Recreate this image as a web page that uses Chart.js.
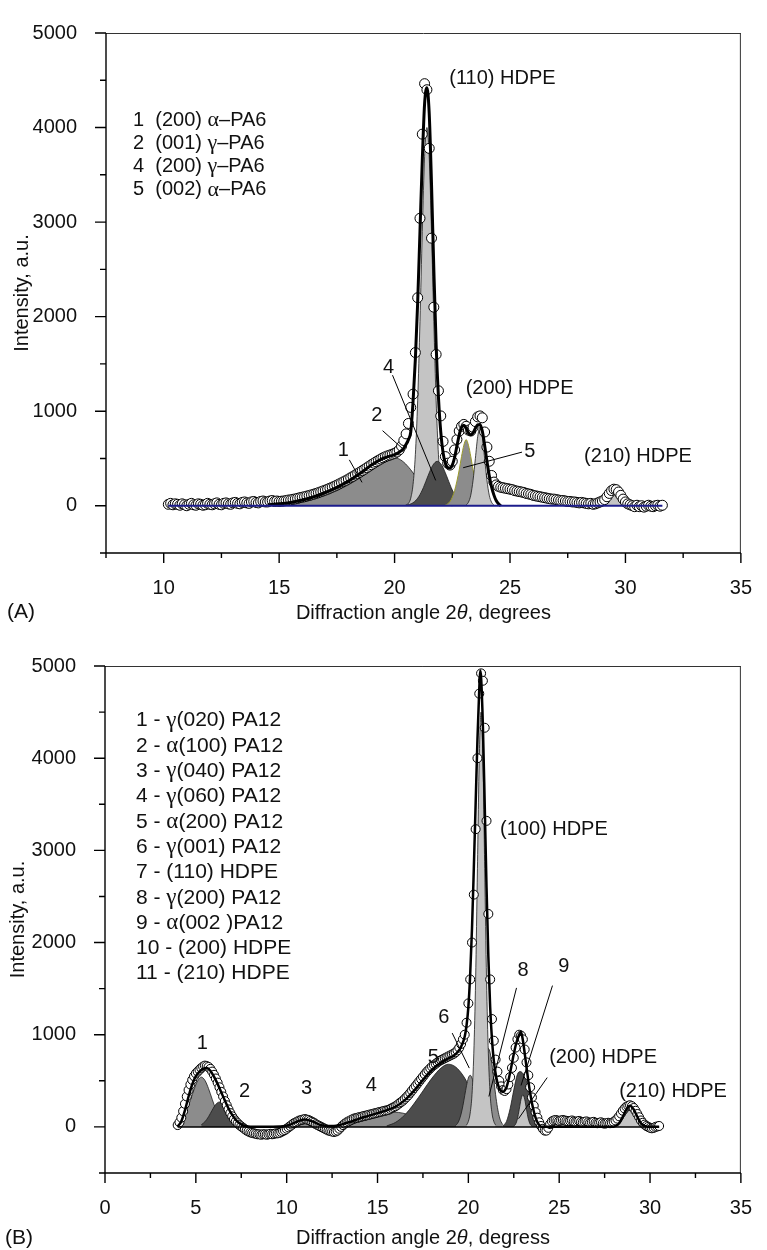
<!DOCTYPE html>
<html>
<head>
<meta charset="utf-8">
<script src="https://cdn.jsdelivr.net/npm/chart.js@4.4.1/dist/chart.umd.min.js"></script>
<style>
  body { margin: 0; background: #fff; width: 767px; height: 1250px; position: relative; overflow: hidden; }
  canvas { position: absolute; left: 0; }
  #chartA { top: 0; }
  #chartB { top: 630px; }
</style>
</head>
<body>
<canvas id="chartA" width="767" height="630"></canvas>
<canvas id="chartB" width="767" height="620"></canvas>
<script>
// ---------- panel A : PA6 / HDPE ----------
const xTicksA = [10, 15, 20, 25, 30, 35];
const yTicks = [0, 1000, 2000, 3000, 4000, 5000];

// measured points, 2theta from 10.2 in steps of 0.1
const scanA_start = 10.2, scanA_step = 0.1;
const scanA = [
  15, 25, 10, 20, 15, 5, 20, 10, 0, 15,
  25, 10, 5, 20, 15, 5, 10, 25, 15, 10,
  20, 30, 15, 10, 25, 30, 20, 15, 30, 35,
  25, 20, 35, 40, 30, 25, 40, 45, 35, 30,
  45, 50, 40, 40, 50, 55, 45, 50, 45, 48,
  50, 55, 60, 62, 68, 72, 78, 85, 90, 95,
  102, 108, 115, 122, 130, 138, 147, 156, 165, 175,
  185, 196, 207, 218, 230, 242, 255, 268, 282, 296,
  310, 325, 340, 355, 370, 386, 402, 418, 434, 450,
  465, 480, 494, 507, 518, 528, 536, 545, 555, 568,
  590, 630, 690, 760, 870, 1040, 1180, 1620, 2200, 3040,
  3930, 4464, 4400, 3780, 2830, 2100, 1600, 1216, 950, 680,
  520, 450, 430, 470, 590, 700, 790, 840, 860, 840,
  800, 790, 830, 890, 940, 950, 930, 780, 620, 470,
  320, 250, 220, 205, 195, 190, 185, 180, 175, 170,
  160, 155, 150, 145, 140, 130, 125, 120, 110, 105,
  100, 95, 90, 85, 80, 75, 70, 70, 65, 60,
  55, 55, 50, 45, 45, 40, 40, 35, 30, 35,
  30, 25, 20, 25, 15, 20, 30, 40, 50, 65,
  95, 130, 160, 175, 170, 145, 110, 70, 40, 20,
  10, 0, -10, 5, -10, 0, -15, -5, 5, -5,
  -10, 0, 5, -5, 5
];
const fitA = [[14.5,10],[15.0,20],[15.5,35],[16.0,60],[16.5,95],[17.0,140],[17.5,195],[18.0,260],[18.5,340],[19.0,430],[19.5,500],[19.8,525],[20.0,540],[20.2,565],[20.4,610],[20.5,650],[20.6,700],[20.7,780],[20.8,1100],[20.9,1550],[21.0,2150],[21.1,2900],[21.2,3650],[21.3,4250],[21.4,4420],[21.5,4150],[21.6,3400],[21.7,2500],[21.8,1700],[21.9,1150],[22.0,780],[22.1,560],[22.2,450],[22.3,405],[22.4,400],[22.5,430],[22.6,510],[22.7,630],[22.8,750],[22.9,830],[23.0,850],[23.1,820],[23.2,770],[23.3,750],[23.4,770],[23.5,820],[23.6,855],[23.7,860],[23.8,790],[23.9,640],[24.0,470],[24.1,320],[24.2,200],[24.3,115],[24.4,55],[24.5,20],[24.6,0]];
const peakA_alpha200 = [[14.5,5],[15.0,15],[15.5,30],[16.0,55],[16.5,90],[17.0,135],[17.5,190],[18.0,255],[18.5,330],[19.0,420],[19.5,490],[19.8,515],[20.1,505],[20.4,460],[20.7,380],[21.0,280],[21.3,180],[21.6,95],[21.9,40],[22.2,12],[22.5,0]];
const peakA_gamma001 = [[19.6,12],[19.8,40],[20.0,110],[20.2,200],[20.4,280],[20.5,300],[20.6,290],[20.8,210],[21.0,110],[21.2,40],[21.4,10]];
const peakA_hdpe110 = [[20.5,8],[20.6,25],[20.7,80],[20.8,225],[20.9,540],[21.0,1110],[21.1,1950],[21.2,2900],[21.3,3690],[21.4,4000],[21.5,3690],[21.6,2900],[21.7,1950],[21.8,1110],[21.9,540],[22.0,225],[22.1,80],[22.2,25],[22.3,8]];
const peakA_gamma200 = [[20.45,3],[20.65,14],[20.85,40],[21.05,97],[21.25,193],[21.45,317],[21.65,426],[21.85,470],[22.05,426],[22.25,317],[22.45,193],[22.65,97],[22.85,40],[23.05,14],[23.25,3]];
const peakA_alpha002 = [[22.2,8],[22.3,20],[22.4,45],[22.5,90],[22.6,160],[22.7,260],[22.8,380],[22.9,520],[23.0,640],[23.1,700],[23.2,640],[23.3,520],[23.4,380],[23.5,260],[23.6,160],[23.7,90],[23.8,45],[23.9,20],[24.0,8]];
const peakA_hdpe200 = [[23.1,8],[23.2,37],[23.3,112],[23.4,270],[23.5,500],[23.6,730],[23.7,830],[23.8,730],[23.9,500],[24.0,270],[24.1,112],[24.2,37],[24.3,8]];
const peakA_hdpe210 = [[28.9,4],[29.0,10],[29.1,25],[29.2,55],[29.3,90],[29.4,125],[29.5,148],[29.6,155],[29.7,148],[29.8,125],[29.9,90],[30.0,55],[30.1,25],[30.2,10],[30.3,4]];
const baseA = [[10.2,0],[31.6,0]];

const legendA = ['1  (200) \u03b1\u2013PA6', '2  (001) \u03b3\u2013PA6', '4  (200) \u03b3\u2013PA6', '5  (002) \u03b1\u2013PA6'];
const labelsA = [['(110) HDPE', 22.37, 4515, 'left'], ['(200) HDPE', 23.08, 1244, 'left'], ['(210) HDPE', 28.21, 522, 'left'],
  ['1', 17.78, 588, 'center'], ['2', 19.23, 959, 'center'], ['4', 19.74, 1464, 'center'], ['5', 25.86, 577, 'center']];
const leadersA = [[[18.04,485],[18.59,247]], [[19.48,794],[20.42,588]], [[19.91,1381],[21.78,268]], [[25.52,567],[22.97,402]]];

// ---------- panel B : PA12 / HDPE ----------
const xTicksB = [0, 5, 10, 15, 20, 25, 30, 35];
const scanB_start = 4.0, scanB_step = 0.1;
const scanB = [
  20, 50, 100, 170, 250, 330, 400, 460, 510, 550,
  580, 600, 620, 640, 655, 665, 660, 650, 630, 600,
  565, 525, 480, 430, 380, 330, 280, 235, 190, 150,
  115, 85, 60, 40, 20, 5, -10, -25, -40, -50,
  -60, -65, -70, -75, -80, -80, -85, -80, -80, -85,
  -80, -75, -80, -75, -70, -70, -65, -55, -45, -35,
  -20, -5, 10, 25, 40, 50, 60, 70, 75, 80,
  85, 80, 75, 65, 55, 45, 30, 20, 10, 0,
  -10, -20, -30, -40, -45, -50, -55, -50, -40, -20,
  0, 20, 35, 50, 60, 70, 80, 90, 95, 100,
  105, 110, 115, 120, 125, 130, 135, 140, 145, 150,
  155, 160, 165, 170, 175, 180, 185, 195, 205, 215,
  225, 240, 255, 270, 285, 305, 325, 345, 370, 395,
  420, 445, 470, 495, 520, 545, 570, 595, 615, 635,
  655, 670, 685, 700, 715, 725, 735, 745, 755, 765,
  775, 785, 795, 810, 830, 860, 900, 950, 1000, 1130,
  1340, 1600, 2000, 2520, 3230, 4000, 4700, 4920, 4840, 4330,
  3320, 2310, 1600, 1170, 935, 730, 600, 500, 440, 400,
  390, 410, 460, 540, 640, 750, 860, 950, 1000, 990,
  950, 840, 700, 560, 430, 320, 230, 160, 100, 50,
  10, -20, -40, -40, -10, 30, 60, 70, 75, 70,
  65, 70, 75, 70, 65, 60, 65, 70, 60, 55,
  60, 65, 55, 50, 55, 60, 50, 45, 50, 55,
  45, 40, 45, 50, 40, 35, 40, 45, 40, 45,
  55, 70, 90, 115, 145, 175, 200, 220, 230, 235,
  225, 205, 175, 140, 105, 70, 45, 25, 10, 0,
  -10, -15, -10, 0, 5, 10
];
const fitB = [[4.0,5],[4.2,60],[4.4,180],[4.6,330],[4.8,460],[5.0,550],[5.2,600],[5.4,630],[5.6,640],[5.8,610],[6.0,545],[6.2,465],[6.4,375],[6.6,285],[6.8,200],[7.0,130],[7.2,75],[7.4,40],[7.6,15],[8.0,3],[9.0,3],[9.8,8],[10.2,25],[10.6,60],[11.0,80],[11.4,60],[11.8,25],[12.2,10],[12.6,10],[13.0,25],[13.5,55],[14.0,90],[14.5,120],[15.0,150],[15.5,180],[16.0,220],[16.5,290],[17.0,390],[17.5,510],[18.0,620],[18.5,700],[18.9,745],[19.2,775],[19.4,810],[19.6,870],[19.8,980],[19.9,1100],[20.0,1300],[20.1,1650],[20.2,2150],[20.3,2800],[20.4,3500],[20.5,4200],[20.6,4750],[20.65,4950],[20.7,4880],[20.8,4350],[20.9,3500],[21.0,2600],[21.1,1850],[21.2,1300],[21.3,950],[21.4,720],[21.5,580],[21.6,480],[21.7,420],[21.8,390],[21.9,380],[22.0,395],[22.1,430],[22.2,500],[22.3,590],[22.4,690],[22.5,790],[22.6,880],[22.7,950],[22.8,1000],[22.9,1030],[23.0,940],[23.1,800],[23.2,650],[23.3,500],[23.4,370],[23.5,260],[23.6,170],[23.7,100],[23.8,50],[23.9,20],[24.0,3],[28.0,3],[28.1,10],[28.3,40],[28.5,110],[28.7,190],[28.9,230],[29.1,190],[29.3,110],[29.5,40],[29.7,10],[29.9,3],[30.5,3]];
const peakB1 = [[3.9,15],[4.1,45],[4.3,100],[4.5,180],[4.7,290],[4.9,405],[5.1,500],[5.3,540],[5.5,505],[5.7,415],[5.9,300],[6.1,190],[6.3,105],[6.5,50],[6.7,20],[6.9,7]];
const peakB2 = [[5.3,23],[5.5,56],[5.7,111],[5.9,182],[6.1,245],[6.3,270],[6.5,245],[6.7,182],[6.9,111],[7.1,56],[7.3,23],[7.5,8]];
const peakB3 = [[9.8,5],[10.0,11],[10.2,22],[10.4,39],[10.6,58],[10.8,74],[11.0,80],[11.2,74],[11.4,58],[11.6,39],[11.8,22],[12.0,11],[12.2,5]];
const peakB4 = [[12.4,4],[12.9,11],[13.4,25],[13.9,49],[14.4,82],[14.9,119],[15.4,149],[15.9,160],[16.4,149],[16.9,119],[17.4,82],[17.9,49],[18.4,25],[18.9,11],[19.4,4]];
const peakB5 = [[15.5,10],[16.0,50],[16.5,130],[17.0,250],[17.5,390],[18.0,530],[18.5,640],[18.9,680],[19.3,650],[19.7,560],[20.1,420],[20.5,260],[20.9,130],[21.3,50],[21.7,15]];
const peakB6 = [[19.3,16],[19.4,37],[19.5,76],[19.6,140],[19.7,230],[19.8,340],[19.9,448],[20.0,530],[20.1,560],[20.2,530],[20.3,448],[20.4,340],[20.5,230],[20.6,140],[20.7,76],[20.8,37],[20.9,16]];
const peakB7 = [[19.9,20],[20.0,60],[20.1,150],[20.2,350],[20.3,800],[20.4,1600],[20.5,2800],[20.6,4000],[20.7,4500],[20.8,4000],[20.9,2800],[21.0,1600],[21.1,800],[21.2,350],[21.3,150],[21.4,60],[21.5,20]];
const peakB8 = [[20.3,24],[20.4,56],[20.5,115],[20.6,212],[20.7,349],[20.8,516],[20.9,680],[21.0,804],[21.1,850],[21.2,804],[21.3,680],[21.4,516],[21.5,349],[21.6,212],[21.7,115],[21.8,56],[21.9,24]];
const peakB9 = [[21.9,10],[22.1,60],[22.3,200],[22.5,400],[22.7,570],[22.85,600],[23.0,580],[23.2,500],[23.4,380],[23.6,250],[23.8,140],[24.0,70],[24.2,25],[24.4,5]];
const peakB10 = [[22.5,8],[22.6,30],[22.7,87],[22.8,190],[22.9,300],[23.0,350],[23.1,300],[23.2,190],[23.3,87],[23.4,30],[23.5,8]];
const peakB11 = [[28.1,7],[28.2,15],[28.3,30],[28.4,56],[28.5,93],[28.6,136],[28.7,180],[28.8,213],[28.9,225],[29.0,213],[29.1,180],[29.2,136],[29.3,93],[29.4,56],[29.5,30],[29.6,15],[29.7,7]];
const baseB = [[4.0,0],[30.5,0]];

const legendB = ['1 - \u03b3(020) PA12', '2 - \u03b1(100) PA12', '3 - \u03b3(040) PA12', '4 - \u03b3(060) PA12', '5 - \u03b1(200) PA12',
  '6 - \u03b3(001) PA12', '7 - (110) HDPE', '8 - \u03b3(200) PA12', '9 - \u03b1(002 )PA12', '10 - (200) HDPE', '11 - (210) HDPE'];
const labelsB = [['1', 5.36, 910, 'center'], ['2', 7.68, 383, 'center'], ['3', 11.1, 418, 'center'], ['4', 14.66, 454, 'center'],
  ['5', 18.07, 757, 'center'], ['6', 18.65, 1188, 'center'], ['8', 23.01, 1699, 'center'], ['9', 25.26, 1742, 'center'],
  ['(100) HDPE', 21.74, 3228, 'left'], ['(200) HDPE', 24.45, 757, 'left'], ['(210) HDPE', 28.3, 383, 'left']];
const leadersB = [[[19.11,1018],[20.05,638]], [[22.65,1508],[21.13,330]], [[24.63,1533],[22.9,450]], [[24.34,535],[22.76,89]]];

// ---------- drawing ----------
const FONT = "'Liberation Sans', Arial, Helvetica, sans-serif";
const GREEK = "'Liberation Serif', 'Times New Roman', serif";
const LIGHT = '#c4c4c4', MID = '#8c8c8c', DARK = '#4c4c4c';

const pts = pairs => pairs.map(p => ({ x: p[0], y: p[1] }));
const scanPts = (start, step, vals) => vals.map((v, i) => ({ x: Math.round((start + i * step) * 100) / 100, y: v }));

function peak(pairs, fill, edge, w) {
  return { data: pts(pairs), backgroundColor: fill, borderColor: edge || '#1a1a1a', borderWidth: w || 0.8,
    fill: 'origin', pointRadius: 0, cubicInterpolationMode: 'monotone' };
}
function line(pairs, color, w) {
  return { data: pts(pairs), borderColor: color, borderWidth: w, fill: false, pointRadius: 0, cubicInterpolationMode: 'monotone' };
}
function dots(start, step, vals, r) {
  return { data: scanPts(start, step, vals), showLine: false, pointRadius: r, pointHoverRadius: r,
    pointBackgroundColor: '#fff', pointBorderColor: '#000', pointBorderWidth: 1 };
}

// greek letters in a serif face, like the symbol font of the original
function richText(ctx, s, x, y, size) {
  let cx = x;
  s.split(/([\u0370-\u03ff]+)/).forEach(run => {
    if (!run) return;
    const greek = /[\u0370-\u03ff]/.test(run);
    ctx.font = (greek ? (size + 2) + 'px ' + GREEK : size + 'px ' + FONT);
    ctx.fillText(run, cx, y);
    cx += ctx.measureText(run).width;
  });
}

const notes = {
  id: 'notes',
  afterDraw(chart, args, o) {
    const { ctx, chartArea: a, scales: { x, y } } = chart;
    ctx.save();
    // frame
    ctx.strokeStyle = '#333'; ctx.lineWidth = 1;
    ctx.beginPath();
    ctx.moveTo(a.left, a.top + 0.5); ctx.lineTo(a.right, a.top + 0.5);
    ctx.moveTo(a.right - 0.5, a.top); ctx.lineTo(a.right - 0.5, a.bottom);
    ctx.stroke();
    ctx.strokeStyle = '#000'; ctx.lineWidth = 1.4;
    ctx.beginPath();
    ctx.moveTo(a.left, a.top); ctx.lineTo(a.left, a.bottom); ctx.lineTo(a.right, a.bottom);
    // tick marks
    for (let v = x.min; v <= x.max + 1e-6; v += 2.5) {
      const px = x.getPixelForValue(v);
      const len = Math.abs(v % 5) < 1e-6 ? 10 : 5;
      ctx.moveTo(px, a.bottom); ctx.lineTo(px, a.bottom + len);
    }
    for (let v = y.min; v <= y.max + 1e-6; v += 500) {
      const py = y.getPixelForValue(v);
      const len = Math.abs(v % 1000) < 1e-6 ? 11 : 6;
      ctx.moveTo(a.left - len, py); ctx.lineTo(a.left, py);
    }
    ctx.stroke();

    ctx.fillStyle = '#111';
    // legend block
    ctx.textAlign = 'left'; ctx.textBaseline = 'middle';
    o.legend.forEach((s, i) => richText(ctx, s, a.left + o.legendDX, a.top + o.legendDY + i * o.legendStep, o.legendSize));
    // peak labels and leaders
    ctx.font = '20px ' + FONT;
    o.labels.forEach(l => {
      ctx.textAlign = l[3];
      ctx.fillText(l[0], x.getPixelForValue(l[1]), y.getPixelForValue(l[2]));
    });
    ctx.strokeStyle = '#000'; ctx.lineWidth = 1;
    ctx.beginPath();
    o.leaders.forEach(s => {
      ctx.moveTo(x.getPixelForValue(s[0][0]), y.getPixelForValue(s[0][1]));
      ctx.lineTo(x.getPixelForValue(s[1][0]), y.getPixelForValue(s[1][1]));
    });
    ctx.stroke();
    // axis titles
    const parts = [['Diffraction angle 2', 'normal'], ['\u03b8', 'italic'], [o.xUnit, 'normal']];
    let total = 0;
    parts.forEach(p => { ctx.font = p[1] + ' 20px ' + FONT; total += ctx.measureText(p[0]).width; });
    let cx = (a.left + a.right) / 2 - total / 2;
    ctx.textAlign = 'left';
    parts.forEach(p => { ctx.font = p[1] + ' 20px ' + FONT; ctx.fillText(p[0], cx, o.xTitleY); cx += ctx.measureText(p[0]).width; });
    ctx.font = '20px ' + FONT;
    ctx.save();
    ctx.translate(o.yTitleX, (a.top + a.bottom) / 2);
    ctx.rotate(-Math.PI / 2);
    ctx.textAlign = 'center';
    ctx.fillText('Intensity, a.u.', 0, 0);
    ctx.restore();
    ctx.font = '21px ' + FONT;
    ctx.textAlign = 'left';
    ctx.fillText(o.panel, o.panelX, o.panelY);
    ctx.restore();
  }
};

function build(id, xr, xTicks, sets, pad, yWidth, xHeight, noteOpts) {
  sets.forEach((d, i) => { d.order = -i; });   // first listed = bottom layer
  return new Chart(document.getElementById(id), {
    type: 'line',
    data: { datasets: sets },
    options: {
      responsive: false, animation: false, events: [],
      layout: { padding: pad },
      plugins: { legend: { display: false }, tooltip: { enabled: false }, notes: noteOpts },
      scales: {
        x: {
          type: 'linear', min: xr[0], max: xr[1],
          grid: { display: false }, border: { display: false },
          ticks: { stepSize: 5, autoSkip: false, maxRotation: 0, padding: 15, color: '#111', font: { family: FONT, size: 20 },
            callback: v => xTicks.includes(v) ? String(v) : '' },
          afterFit: s => { s.height = xHeight; }
        },
        y: {
          type: 'linear', min: -500, max: 5000,
          grid: { display: false }, border: { display: false },
          ticks: { stepSize: 500, autoSkip: false, padding: 21, color: '#111', font: { family: FONT, size: 20 },
            callback: v => yTicks.includes(v) ? String(v) : '' },
          afterFit: s => { s.width = yWidth; }
        }
      }
    },
    plugins: [notes]
  });
}

build('chartA', [7.5, 35], xTicksA, [
  peak(peakA_gamma001, MID),
  peak(peakA_alpha200, MID),
  peak(peakA_hdpe110, LIGHT),
  peak(peakA_gamma200, DARK),
  peak(peakA_alpha002, MID, '#9a9a2a', 1),
  peak(peakA_hdpe200, LIGHT),
  peak(peakA_hdpe210, LIGHT, '#1c1c8c', 1.5),
  dots(scanA_start, scanA_step, scanA, 5),
  line(fitA, '#000', 3),
  line(baseA, '#1c1c8c', 2)
], { left: 0, right: 14, top: 19, bottom: 5 }, 106, 72, {
  legend: legendA, legendSize: 20, legendDX: 27, legendDY: 87, legendStep: 23.3,
  labels: labelsA, leaders: leadersA, xUnit: ', degrees', xTitleY: 613, yTitleX: 22,
  panel: '(A)', panelX: 7, panelY: 612
});

build('chartB', [0, 35], xTicksB, [
  peak(peakB4, MID),
  peak(peakB3, MID),
  peak(peakB1, MID),
  peak(peakB2, DARK),
  peak(peakB5, DARK),
  peak(peakB6, MID),
  peak(peakB8, MID),
  peak(peakB7, LIGHT),
  peak(peakB9, DARK),
  peak(peakB10, LIGHT),
  peak(peakB11, LIGHT),
  dots(scanB_start, scanB_step, scanB, 4.5),
  line(fitB, '#000', 2.5),
  line(baseB, '#000', 1.5)
], { left: 0, right: 14, top: 36, bottom: 0 }, 105, 77, {
  legend: legendB, legendSize: 21, legendDX: 31, legendDY: 54.7, legendStep: 25.3,
  labels: labelsB, leaders: leadersB, xUnit: ', degress', xTitleY: 608, yTitleX: 18,
  panel: '(B)', panelX: 5, panelY: 608
});
</script>
</body>
</html>
